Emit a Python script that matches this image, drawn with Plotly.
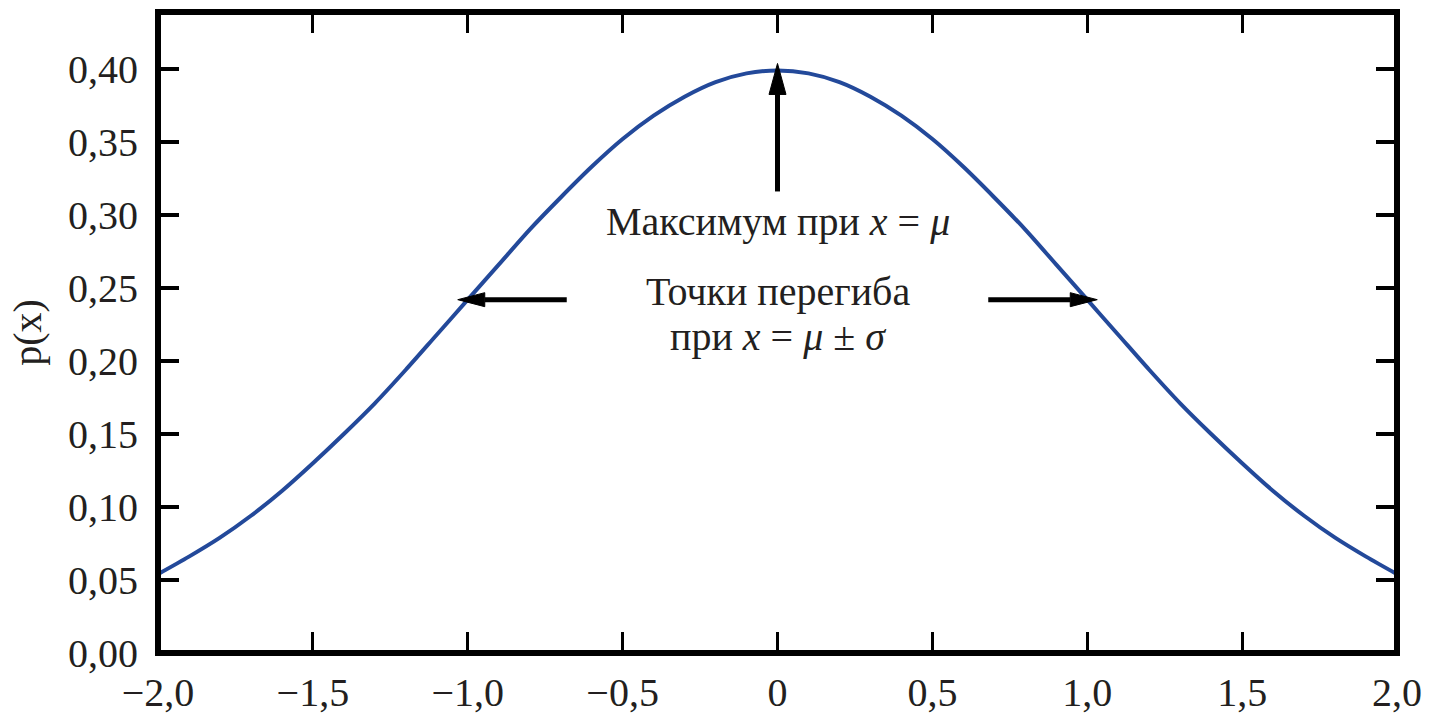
import plotly.graph_objects as go

# Density curve p(x) read at steps of 0.1
x_vals = [-2.0, -1.9, -1.8, -1.7, -1.6, -1.5, -1.4, -1.3, -1.2, -1.1, -1.0,
          -0.9, -0.8, -0.7, -0.6, -0.5, -0.4, -0.3, -0.2, -0.1, 0.0,
          0.1, 0.2, 0.3, 0.4, 0.5, 0.6, 0.7, 0.8, 0.9, 1.0,
          1.1, 1.2, 1.3, 1.4, 1.5, 1.6, 1.7, 1.8, 1.9, 2.0]
p_vals = [0.054, 0.066, 0.079, 0.094, 0.111, 0.130, 0.150, 0.171, 0.194, 0.218, 0.242,
          0.266, 0.290, 0.312, 0.333, 0.352, 0.368, 0.381, 0.391, 0.397, 0.399,
          0.397, 0.391, 0.381, 0.368, 0.352, 0.333, 0.312, 0.290, 0.266, 0.242,
          0.218, 0.194, 0.171, 0.150, 0.130, 0.111, 0.094, 0.079, 0.066, 0.054]

x_ticks = [-2.0, -1.5, -1.0, -0.5, 0.0, 0.5, 1.0, 1.5, 2.0]
x_tick_text = ["\u22122,0", "\u22121,5", "\u22121,0", "\u22120,5", "0", "0,5", "1,0", "1,5", "2,0"]
y_ticks = [0.00, 0.05, 0.10, 0.15, 0.20, 0.25, 0.30, 0.35, 0.40]
y_tick_text = ["0,00", "0,05", "0,10", "0,15", "0,20", "0,25", "0,30", "0,35", "0,40"]

# Points the arrows point at: the maximum and the two inflection points
peak = (0.0, 0.399)
inflections = [(-1.0, 0.242), (1.0, 0.242)]

SERIF = "'Liberation Serif', 'Times New Roman', 'DejaVu Serif', serif"
TXT = "#231f20"
CURVE = "#23499a"

fig = go.Figure()
fig.add_trace(go.Scatter(x=x_vals, y=p_vals, mode="lines",
                         line=dict(color=CURVE, width=4, shape="spline", smoothing=0.8),
                         hoverinfo="skip", showlegend=False))

shapes = [dict(type="rect", xref="paper", yref="paper", x0=0, x1=1, y0=0, y1=1,
               line=dict(color="black", width=6), layer="above")]


def arrow(direction, anchor, tip, base, tail, half):
    """Arrow anchored at a data point; tip/base/tail are pixel offsets along
    the direction vector, half is half the head width (pixels)."""
    dx, dy = direction
    px, py = -dy, dx
    out = []
    bx, by = dx * base, dy * base
    tx, ty = dx * tail, dy * tail
    out.append(dict(type="line", xref="x", yref="y", xsizemode="pixel", ysizemode="pixel",
                    xanchor=anchor[0], yanchor=anchor[1], x0=bx, y0=by, x1=tx, y1=ty,
                    line=dict(color="black", width=5), layer="above"))
    hx, hy = dx * tip, dy * tip
    path = (f"M{hx},{hy} L{bx + px * half},{by + py * half} "
            f"L{bx - px * half},{by - py * half} Z")
    out.append(dict(type="path", xref="x", yref="y", xsizemode="pixel", ysizemode="pixel",
                    xanchor=anchor[0], yanchor=anchor[1], path=path,
                    fillcolor="black", line=dict(color="black", width=1), layer="above"))
    return out


# vertical arrow up to the maximum
shapes += arrow((0, -1), peak, -7, 24, 121, 8.5)
# horizontal arrows to the inflection points
shapes += arrow((1, 0), inflections[0], -10, 17, 99, 7)
shapes += arrow((-1, 0), inflections[1], -10, 17, 99, 7)

ann_font = dict(family=SERIF, size=40, color=TXT)
annotations = [
    dict(x=0, y=0.2955, xref="x", yref="y", showarrow=False, borderpad=0,
         text="Максимум при <i>x</i> = <i>μ</i>", font=ann_font),
    dict(x=0, y=0.2479, xref="x", yref="y", showarrow=False, borderpad=0,
         text="Точки перегиба", font=ann_font),
    dict(x=0, y=0.2168, xref="x", yref="y", showarrow=False, borderpad=0,
         text="при <i>x</i> = <i>μ</i> ± <i>σ</i>", font=ann_font),
]

tick_font = dict(family=SERIF, size=40, color=TXT)
fig.update_layout(
    width=1433, height=717,
    margin=dict(l=158, r=36, t=12, b=64, autoexpand=False),
    paper_bgcolor="white", plot_bgcolor="white",
    shapes=shapes, annotations=annotations,
    xaxis=dict(range=[-2, 2], tickvals=x_ticks, ticktext=x_tick_text,
               ticks="inside", ticklen=21, tickwidth=3, tickcolor="black",
               mirror="ticks", showline=False, showgrid=False, zeroline=False,
               tickfont=tick_font, ticklabelstandoff=12, automargin=False),
    yaxis=dict(range=[0, 0.43904], tickvals=y_ticks, ticktext=y_tick_text,
               ticks="inside", ticklen=21, tickwidth=4, tickcolor="black",
               mirror="ticks", showline=False, showgrid=False, zeroline=False,
               tickfont=tick_font, ticklabelstandoff=19, automargin=False,
               title=dict(text="p(x)", font=dict(family=SERIF, size=40, color=TXT),
                          standoff=14)),
)

fig.write_html("out.html")
